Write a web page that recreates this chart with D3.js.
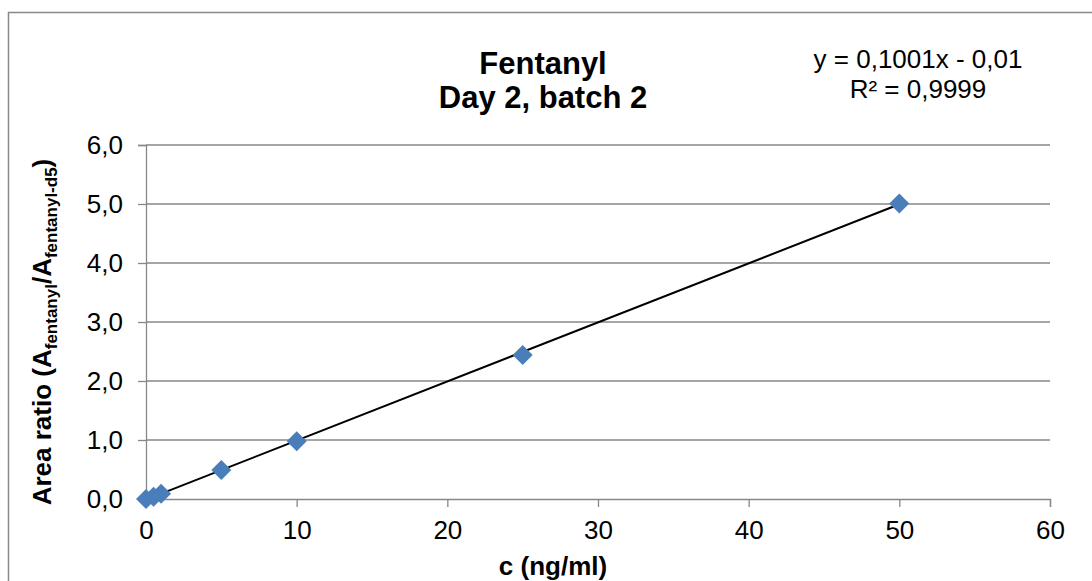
<!DOCTYPE html>
<html><head><meta charset="utf-8">
<script src="https://cdn.jsdelivr.net/npm/d3@7"></script>
<style>body{margin:0;background:#fff}svg{display:block}text{font-family:"Liberation Sans",Arial,sans-serif}</style>
</head><body>
<svg id="c" width="1092" height="581"></svg>
<script>
const concentrations = [0, 0.5, 1, 5, 10, 25, 50];
const areaRatios = [0.00, 0.04, 0.09, 0.49, 0.98, 2.44, 5.01];
const xTicks = [0, 10, 20, 30, 40, 50, 60];
const yTicks = [0, 1, 2, 3, 4, 5, 6];
const slope = 0.1001, intercept = -0.01;
const titleLines = ["Fentanyl", "Day 2, batch 2"];
const eqLines = ["y = 0,1001x - 0,01", "R² = 0,9999"];

const svg = d3.select("#c");
const x = d3.scaleLinear().domain([0, 60]).range([146, 1050]);
const y = d3.scaleLinear().domain([0, 6]).range([499, 145]);
const fmt = d => d3.format(".1f")(d).replace(".", ",");

svg.append("rect").attr("x", 8.5).attr("y", 12.5).attr("width", 1100).attr("height", 600)
  .attr("fill", "#fff").attr("stroke", "#898989").attr("stroke-width", 1.5);

// gridlines
svg.append("g").selectAll("line").data(yTicks.slice(1)).join("line")
  .attr("x1", x(0)).attr("x2", x(60)).attr("y1", d => y(d)).attr("y2", d => y(d))
  .attr("stroke", "#878787").attr("stroke-width", 1.3);

const yAxis = svg.append("g").attr("transform", `translate(${x(0)},0)`)
  .call(d3.axisLeft(y).tickValues(yTicks).tickFormat(fmt).tickSize(8).tickPadding(15));
const xAxis = svg.append("g").attr("transform", `translate(0,${y(0)})`)
  .call(d3.axisBottom(x).tickValues(xTicks).tickSize(8).tickPadding(14));
[yAxis, xAxis].forEach(a => {
  a.selectAll("path,line").attr("stroke", "#878787").attr("stroke-width", 1.3);
  a.selectAll("text").attr("font-size", 26).attr("fill", "#000").attr("font-family", '"Liberation Sans",Arial,sans-serif');
});

// trendline
svg.append("line")
  .attr("x1", x(0)).attr("y1", y(intercept + slope * 0))
  .attr("x2", x(50)).attr("y2", y(intercept + slope * 50))
  .attr("stroke", "#000").attr("stroke-width", 2);

// markers
svg.append("g").selectAll("path").data(concentrations).join("path")
  .attr("transform", (d, i) => `translate(${x(d)},${y(areaRatios[i])})`)
  .attr("d", "M0,-10L10,0L0,10L-10,0Z").attr("fill", "#4a7ebb");

// title
svg.append("g").selectAll("text").data(titleLines).join("text")
  .attr("x", 543).attr("y", (d, i) => 74 + i * 34).attr("text-anchor", "middle")
  .attr("font-size", 31).attr("font-weight", "bold").text(d => d);

// equation
svg.append("g").selectAll("text").data(eqLines).join("text")
  .attr("x", 918).attr("y", (d, i) => 68 + i * 30).attr("text-anchor", "middle")
  .attr("font-size", 26).text(d => d);

// x title
svg.append("text").attr("x", 553).attr("y", 575).attr("text-anchor", "middle")
  .attr("font-size", 26).attr("font-weight", "bold").text("c (ng/ml)");

// y title
const yt = svg.append("text").attr("transform", "translate(51,332) rotate(-90)")
  .attr("text-anchor", "middle").attr("font-size", 26).attr("font-weight", "bold");
yt.append("tspan").text("Area ratio (A");
yt.append("tspan").attr("font-size", 17).attr("dy", 6).text("fentanyl");
yt.append("tspan").attr("dy", -6).text("/A");
yt.append("tspan").attr("font-size", 17).attr("dy", 6).text("fentanyl-d5");
yt.append("tspan").attr("dy", -6).text(")");
</script>
</body></html>
